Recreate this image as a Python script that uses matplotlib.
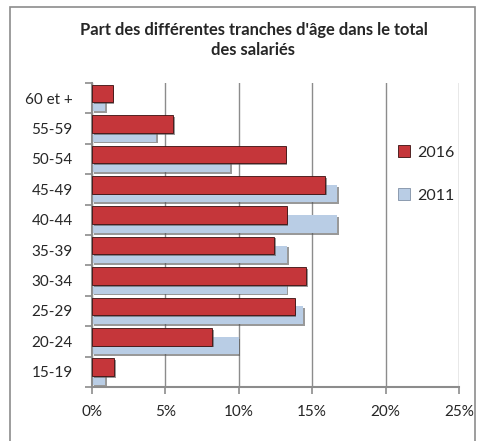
import matplotlib.pyplot as plt
import matplotlib.patheffects as pe
from matplotlib.patches import Rectangle
import numpy as np

plt.rcParams['font.family'] = ['Lato', 'DejaVu Sans']

# age groups, bottom to top
age_groups = ['15-19', '20-24', '25-29', '30-34', '35-39',
              '40-44', '45-49', '50-54', '55-59', '60 et +']
share_2016 = [1.5, 8.2, 13.8, 14.6, 12.4, 13.25, 15.9, 13.2, 5.55, 1.4]
share_2011 = [0.9, 10.0, 14.4, 13.25, 13.3, 16.7, 16.7, 9.4, 4.35, 0.9]

red = '#C5363A'
blue = '#B9CDE5'

fig = plt.figure(figsize=(4.81, 4.41), dpi=100)
ax = fig.add_axes([92 / 481, 1 - 387 / 441, 367 / 481, 304 / 441])

y = np.arange(len(age_groups))
h = 0.58
shadow = [pe.SimplePatchShadow(offset=(1.2, -1.2), shadow_rgbFace='#555555', alpha=0.6), pe.Normal()]

ax.barh(y - 0.14, share_2011, height=h, color=blue, edgecolor='none',
        label='2011', zorder=2, path_effects=shadow)
ax.barh(y + 0.15, share_2016, height=h, color=red, edgecolor='#3a1010',
        linewidth=0.6, label='2016', zorder=3, path_effects=shadow)

ax.set_xlim(0, 25)
ax.set_ylim(-0.5, len(age_groups) - 0.5)
ax.set_xticks(np.arange(0, 26, 5))
ax.set_xticklabels([f'{v}%' for v in range(0, 26, 5)])
ax.set_yticks(y)
ax.set_yticklabels(age_groups)
ax.set_yticks(np.arange(-0.5, len(age_groups), 1), minor=True)

ax.grid(axis='x', color='#8c8c8c', linewidth=1, zorder=0)
ax.set_axisbelow(True)
for s in ['top', 'right']:
    ax.spines[s].set_visible(False)
for s in ['left', 'bottom']:
    ax.spines[s].set_color('#8c8c8c')
    ax.spines[s].set_linewidth(1.5)

ax.tick_params(axis='y', which='major', length=0, pad=14, labelsize=11, labelcolor='#262626')
ax.tick_params(axis='y', which='minor', length=5, width=1.2, color='#8c8c8c')
ax.tick_params(axis='x', length=5, width=1.2, color='#8c8c8c', pad=8,
               labelsize=11, labelcolor='#262626')

fig.text(0.527, 1 - 40 / 441, "Part des différentes tranches d'âge dans le total\ndes salariés",
         ha='center', va='center', fontsize=11.9, fontweight='bold',
         color='#262626', linespacing=1.3)

leg_handles = [Rectangle((0, 0), 1, 1, facecolor=red, edgecolor='#3a1010', linewidth=0.6),
               Rectangle((0, 0), 1, 1, facecolor=blue, edgecolor='#7f8fa5', linewidth=0.6)]
leg = fig.legend(leg_handles, ['2016', '2011'], loc='center left',
                 bbox_to_anchor=(384 / 481, 1 - 174 / 441), frameon=False,
                 fontsize=11.5, handlelength=0.75, handleheight=0.75,
                 handletextpad=0.4, labelspacing=1.8)
for t in leg.get_texts():
    t.set_color('#262626')

# outer chart border
fig.patches.append(Rectangle((10 / 481, -0.05), 465 / 481, 1 - 7 / 441 + 0.05,
                             transform=fig.transFigure, fill=False,
                             edgecolor='#8c8c8c', linewidth=1.2))

fig.savefig('out.png', dpi=100)
